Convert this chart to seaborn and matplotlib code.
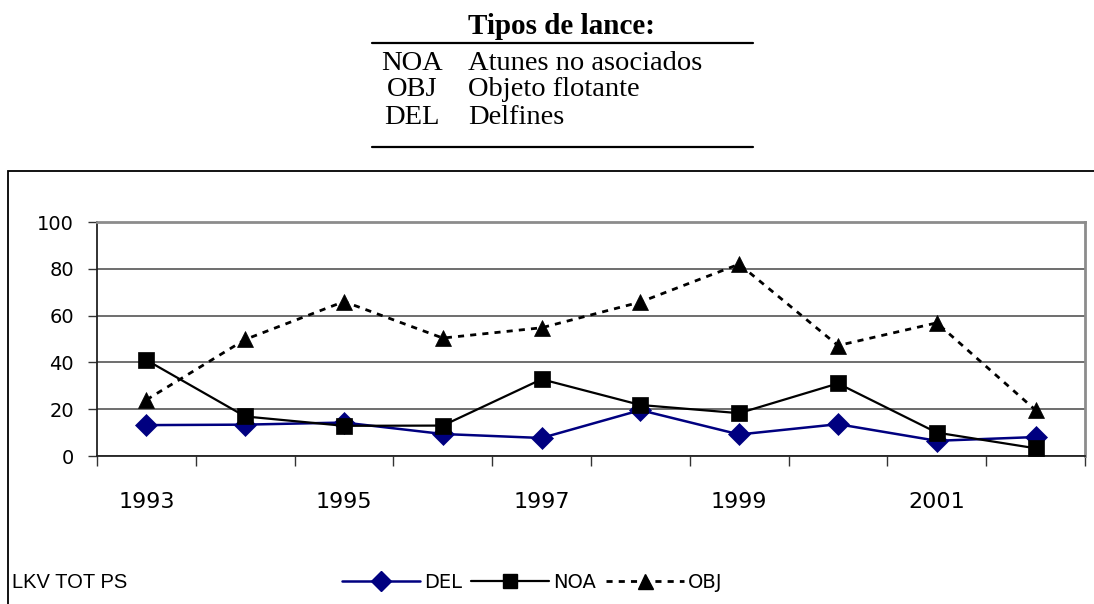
import matplotlib
matplotlib.use("Agg")
import matplotlib.pyplot as plt
import seaborn as sns
import pandas as pd
from matplotlib.patches import Rectangle
from matplotlib.lines import Line2D
from matplotlib.ticker import FixedLocator

years = [1993, 1994, 1995, 1996, 1997, 1998, 1999, 2000, 2001, 2002]
del_vals = [13.2, 13.4, 14.3, 9.4, 7.7, 19.6, 9.2, 13.6, 6.5, 8.1]
noa_vals = [41.0, 16.9, 12.9, 13.0, 32.8, 21.8, 18.3, 31.0, 10.0, 3.3]
obj_vals = [24.0, 49.8, 66.0, 50.4, 54.8, 65.8, 82.0, 47.2, 56.9, 19.6]
series = ["DEL", "NOA", "OBJ"]
year_labels = ["1993", "1995", "1997", "1999", "2001"]
table_codes = ["NOA", "OBJ", "DEL"]
table_desc = ["Atunes no asociados", "Objeto flotante", "Delfines"]

sns.set_theme(style="white")
plt.rcParams["font.family"] = ["DejaVu Sans"]
plt.rcParams["text.color"] = "black"
plt.rcParams["xtick.color"] = "black"
plt.rcParams["ytick.color"] = "black"
plt.rcParams["xtick.labelcolor"] = "black"
plt.rcParams["ytick.labelcolor"] = "black"

rows = []
for name, vals in zip(series, [del_vals, noa_vals, obj_vals]):
    for i, v in enumerate(vals):
        rows.append({"pos": i, "value": v, "serie": name})
df = pd.DataFrame(rows)

fig = plt.figure(figsize=(10.94, 6.04), dpi=100)
ax = fig.add_axes([97 / 1094, 1 - 456 / 604, (1085 - 97) / 1094, (456 - 222) / 604])

palette = {"DEL": "#000080", "NOA": "#000000", "OBJ": "#000000"}
markers = {"DEL": "D", "NOA": "s", "OBJ": "^"}
dashes = {"DEL": "", "NOA": "", "OBJ": (2.2, 2.2)}
sizes_m = {"DEL": 11.5, "NOA": 11, "OBJ": 12}
widths = {"DEL": 1.8, "NOA": 1.6, "OBJ": 2.0}

for name in series:
    sub = df[df["serie"] == name]
    sns.lineplot(data=sub, x="pos", y="value", ax=ax, color=palette[name],
                 marker=markers[name], markersize=sizes_m[name],
                 markeredgecolor=palette[name], markeredgewidth=0.5,
                 linewidth=widths[name],
                 linestyle=(0, dashes[name]) if dashes[name] else "-",
                 legend=False, zorder=3)

ax.set_xlim(-0.5, len(years) - 0.5)
ax.set_ylim(0, 100)
ax.set_xlabel("")
ax.set_ylabel("")
ax.set_yticks([0, 20, 40, 60, 80, 100])
ax.set_yticklabels(["0", "20", "40", "60", "80", "100"], fontsize=14)
ax.set_xticks([0, 2, 4, 6, 8])
ax.set_xticklabels(year_labels, fontsize=16)
ax.xaxis.set_minor_locator(FixedLocator([i - 0.5 for i in range(len(years) + 1)]))
ax.tick_params(axis="x", which="major", length=0, pad=26, labelcolor="black")
ax.tick_params(axis="x", which="minor", bottom=True, length=7, width=1, color="#333333", direction="out")
ax.tick_params(axis="y", which="major", left=True, length=6.5, width=1, color="#333333", pad=10, labelcolor="black")
ax.grid(axis="y", color="#555555", linewidth=1.2)
ax.set_axisbelow(True)
for s in ["top", "right"]:
    ax.spines[s].set_color("#8c8c8c")
    ax.spines[s].set_linewidth(2)
for s in ["left", "bottom"]:
    ax.spines[s].set_color("#222222")
    ax.spines[s].set_linewidth(1.3)

# outer chart border
fig.patches.append(Rectangle((8 / 1094, -0.05), 1.1, 1 - 171 / 604 + 0.05,
                             transform=fig.transFigure, fill=False,
                             edgecolor="black", linewidth=1.3))

fig.text(12 / 1094, 1 - 583 / 604, "LKV TOT PS", fontsize=14.5, color="black",
         family=["Liberation Sans"], va="center", ha="left")

handles = [Line2D([], [], color=palette[n], marker=markers[n], markersize=sizes_m[n] * 0.9,
                  linewidth=widths[n], linestyle=(0, dashes[n]) if dashes[n] else "-")
           for n in series]
leg = fig.legend(handles, series, loc="center", bbox_to_anchor=(532 / 1094, 1 - 582 / 604),
                 ncol=3, frameon=False, fontsize=14, handlelength=4.0,
                 handletextpad=0.2, columnspacing=0.5, labelcolor="black")

# table of set types
fig.text(562 / 1094, 1 - 27 / 604, "Tipos de lance:", fontsize=21, fontweight="bold",
         color="black", family=["Liberation Serif"], ha="center", va="center")
fig.add_artist(Line2D([372 / 1094, 753 / 1094], [1 - 43 / 604, 1 - 43 / 604],
                      transform=fig.transFigure, color="black", linewidth=1.6))
fig.add_artist(Line2D([372 / 1094, 753 / 1094], [1 - 147 / 604, 1 - 147 / 604],
                      transform=fig.transFigure, color="black", linewidth=1.6))
row_y = [63, 90, 118]
for code, desc, yy in zip(table_codes, table_desc, row_y):
    fig.text(412 / 1094, 1 - yy / 604, code, fontsize=20.5, family=["Liberation Serif"],
             color="black", ha="center", va="center")
    fig.text(468 / 1094, 1 - yy / 604, desc, fontsize=20.5, family=["Liberation Serif"],
             color="black", ha="left", va="center")

fig.savefig("out.png", dpi=100)
